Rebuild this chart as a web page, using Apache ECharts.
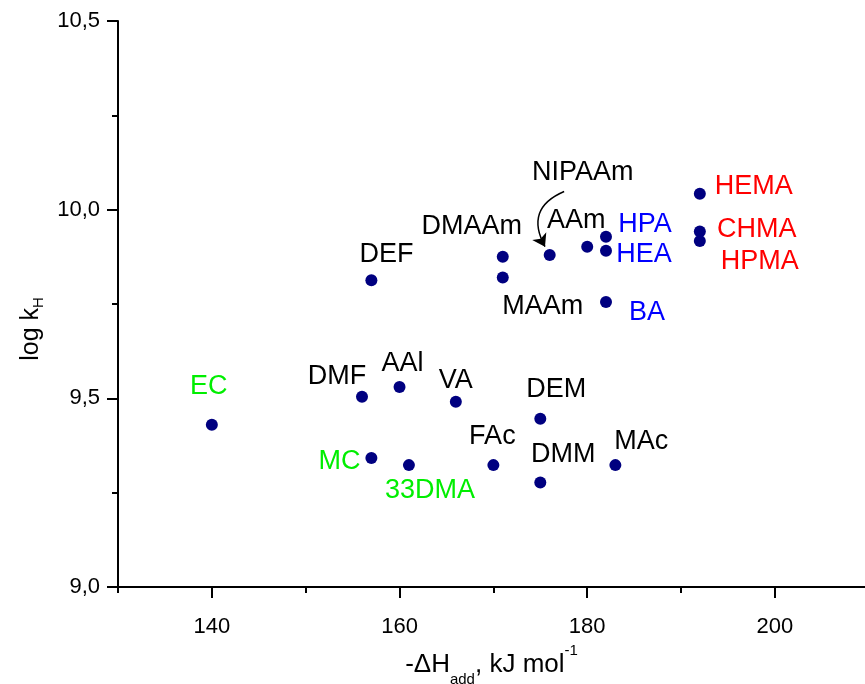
<!DOCTYPE html>
<html>
<head>
<meta charset="utf-8">
<script src="https://cdn.jsdelivr.net/npm/echarts@6/dist/echarts.min.js"></script>
<style>
  html, body { margin: 0; padding: 0; background: #fff; }
  #chart { width: 865px; height: 684px; }
</style>
</head>
<body>
<div id="chart"></div>
<script>
// monomer names, -dH_add (kJ/mol) and log kH
const names = ['EC', 'DMF', 'AAl', 'VA', 'DEM', 'MC', '33DMA', 'FAc', 'DMM', 'MAc',
  'DEF', 'DMAAm', 'MAAm', 'NIPAAm', 'AAm', 'HPA', 'HEA', 'BA', 'HEMA', 'CHMA', 'HPMA']
const dH = [140, 156, 160, 166, 175, 157, 161, 170, 175, 183,
  157, 171, 171, 176, 180, 182, 182, 182, 192, 192, 192]
const logK = [9.430, 9.504, 9.530, 9.491, 9.446, 9.342, 9.323, 9.323, 9.277, 9.323,
  9.813, 9.875, 9.820, 9.880, 9.902, 9.928, 9.891, 9.755, 10.042, 9.942, 9.917]
const xLabels = [140, 160, 180, 200]
const xMinor = [130, 150, 170, 190]
// arrow from the NIPAAm label down to its dot
const arrowFrom = [177.54, 10.048]
const arrowTo = [175.5, 9.902]

// label colours by group
const green = ['EC', 'MC', '33DMA']
const blue = ['HPA', 'HEA', 'BA']
const red = ['HEMA', 'CHMA', 'HPMA']
function labelColor (n) {
  if (green.includes(n)) return '#00ee00'
  if (blue.includes(n)) return '#0000ff'
  if (red.includes(n)) return '#ff0000'
  return '#000'
}
// label offsets from the dot, in px
const offsets = {
  EC: [-3, -38], DMF: [-25, -20], AAl: [3, -23], VA: [0, -21], DEM: [16, -29],
  MC: [-32, 4], '33DMA': [21, 25], FAc: [-1, -29], DMM: [23, -28], MAc: [26, -24],
  DEF: [15, -26], DMAAm: [-31, -30], MAAm: [40, 29], NIPAAm: [33, -82], AAm: [-11, -26],
  HPA: [39, -12], HEA: [38, 4], BA: [41, 10], HEMA: [54, -7], CHMA: [57, -2], HPMA: [60, 21]
}

const font = 'Liberation Sans, Arial, sans-serif'
const chart = echarts.init(document.getElementById('chart'))

const seriesData = names.map((n, i) => ({
  name: n,
  value: [dH[i], logK[i]],
  label: { offset: offsets[n], color: labelColor(n) }
}))

const axisCommon = {
  axisLine: { show: true, onZero: false, lineStyle: { color: '#000', width: 2 } },
  splitLine: { show: false }
}

chart.setOption({
  animation: false,
  grid: { left: 118, right: 0, top: 21, bottom: 97, containLabel: false, outerBoundsMode: 'none' },
  xAxis: [
    Object.assign({}, axisCommon, {
      type: 'value',
      min: 130,
      max: 209.6,
      name: '-ΔH{sub|add}, kJ mol{sup|-1}',
      nameLocation: 'middle',
      nameGap: 56,
      nameTextStyle: {
        fontFamily: font, fontSize: 26, color: '#000', lineHeight: 36,
        rich: {
          sub: { fontFamily: font, fontSize: 15, lineHeight: 14, verticalAlign: 'bottom', color: '#000' },
          sup: { fontFamily: font, fontSize: 15, lineHeight: 44, verticalAlign: 'top', color: '#000' }
        }
      },
      axisTick: { show: true, length: 11, customValues: xLabels, lineStyle: { color: '#000', width: 2 } },
      axisLabel: { customValues: xLabels, margin: 29, fontFamily: font, fontSize: 22, color: '#000' }
    }),
    {
      type: 'value',
      min: 130,
      max: 209.6,
      position: 'bottom',
      axisLine: { show: false },
      splitLine: { show: false },
      axisTick: { show: true, length: 6, customValues: xMinor, lineStyle: { color: '#000', width: 2 } },
      axisLabel: { show: false }
    }
  ],
  yAxis: Object.assign({}, axisCommon, {
    type: 'value',
    min: 9,
    max: 10.5,
    interval: 0.5,
    name: 'log k{sub|H}',
    nameLocation: 'middle',
    nameRotate: 90,
    nameGap: 72,
    nameTextStyle: {
      fontFamily: font, fontSize: 25, color: '#000', lineHeight: 30, padding: [0, 50, 0, 0],
      rich: {
        sub: { fontFamily: font, fontSize: 15, lineHeight: 12, verticalAlign: 'bottom', color: '#000' }
      }
    },
    axisTick: { show: true, length: 11, lineStyle: { color: '#000', width: 2 } },
    minorTick: { show: true, splitNumber: 2, length: 6, lineStyle: { color: '#000', width: 2 } },
    axisLabel: {
      margin: 18,
      fontFamily: font,
      fontSize: 22,
      color: '#000',
      formatter: v => v.toFixed(1).replace('.', ',')
    }
  }),
  series: [
    {
      type: 'scatter',
      symbol: 'circle',
      symbolSize: 12,
      itemStyle: { color: '#000080', opacity: 1 },
      label: {
        show: true,
        position: 'inside',
        formatter: p => p.name,
        fontFamily: font,
        fontSize: 27,
        align: 'center',
        verticalAlign: 'middle'
      },
      data: seriesData
    },
    {
      type: 'lines',
      coordinateSystem: 'cartesian2d',
      silent: true,
      symbol: ['none', 'arrow'],
      symbolSize: [9, 12],
      lineStyle: { color: '#000', width: 1.5, opacity: 1, curveness: -0.55 },
      data: [{ coords: [arrowFrom, arrowTo] }]
    }
  ]
})
</script>
</body>
</html>
